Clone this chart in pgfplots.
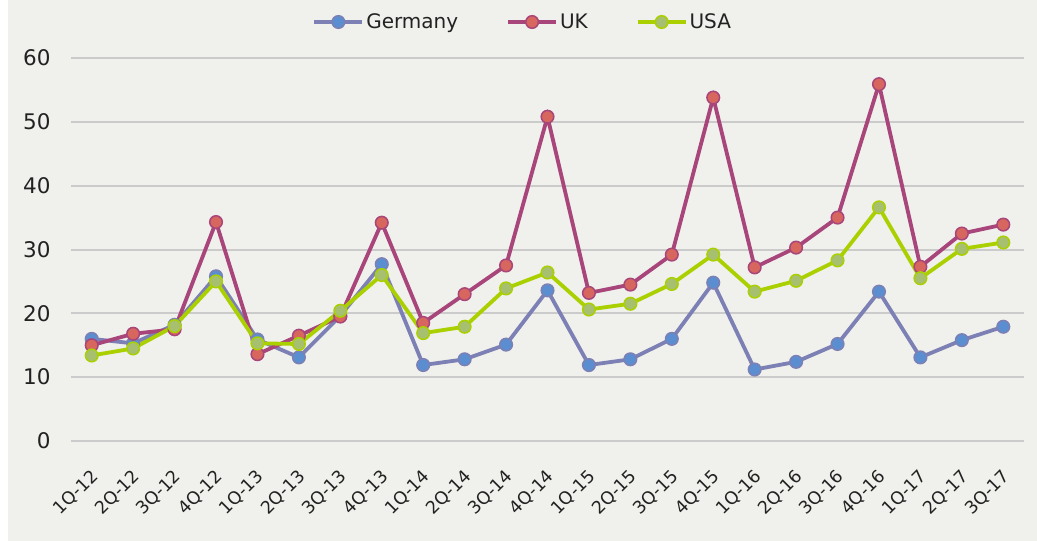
\documentclass[border=0pt]{standalone}
\usepackage{pgfplots}
\pgfplotsset{compat=1.18}
\usepackage{fontspec}
\setmainfont{DejaVu Sans}
\definecolor{bg}{HTML}{F0F0EC}
\definecolor{gridc}{HTML}{CBCBCB}
\definecolor{txt}{HTML}{222222}
\definecolor{gerL}{HTML}{7C80B4}
\definecolor{gerF}{HTML}{5B8ED0}
\definecolor{ukL}{HTML}{A8457A}
\definecolor{ukF}{HTML}{D6665E}
\definecolor{usL}{HTML}{AAD000}
\definecolor{usF}{HTML}{A6C070}
\begin{document}
\begin{tikzpicture}[x=1pt,y=1pt]
\fill[white] (0,0) rectangle (1037,541);
\fill[bg] (8,0) rectangle (1037,541);
\begin{axis}[
  at={(71pt,100pt)}, anchor=south west,
  width=953pt, height=383pt, scale only axis,
  xmin=-0.5, xmax=22.5, ymin=0, ymax=60,
  axis line style={draw=none},
  xtick={0,...,22},
  xticklabels={1Q-12,2Q-12,3Q-12,4Q-12,1Q-13,2Q-13,3Q-13,4Q-13,1Q-14,2Q-14,3Q-14,4Q-14,1Q-15,2Q-15,3Q-15,4Q-15,1Q-16,2Q-16,3Q-16,4Q-16,1Q-17,2Q-17,3Q-17},
  x tick label style={anchor=east, xshift=6pt, yshift=-30pt, rotate=45, text=txt,
    font=\fontsize{17.5}{20}\selectfont},
  ytick={0,10,...,60},
  y tick label style={font=\fontsize{21.5}{24}\selectfont, xshift=-17pt, text=txt},
  /pgf/number format/assume math mode=true,
  major tick length=0pt,
  ymajorgrids, grid style={gridc, line width=2pt},
  legend columns=3,
  legend style={at={(0.474,1.094)}, anchor=center, draw=none, fill=none,
    font=\fontsize{20}{24}\selectfont, text=txt,
    /tikz/every even column/.append style={column sep=46pt}},
  legend image code/.code={
    \draw[#1, mark=none] (0pt,0pt) -- (48pt,0pt);
    \draw[#1, only marks] plot coordinates {(24pt,0pt)};
  },
  every axis plot/.append style={line width=3.8pt, mark=*, mark size=6.3pt},
]
\addplot[gerL, mark options={fill=gerF, draw=gerL, line width=1.5pt}] coordinates {
(0,16.0)(1,15.3)(2,18.2)(3,25.8)(4,15.9)(5,13.1)(6,19.6)(7,27.7)(8,11.9)(9,12.8)(10,15.1)
(11,23.6)(12,11.9)(13,12.8)(14,16.0)(15,24.8)(16,11.2)(17,12.4)(18,15.2)(19,23.4)(20,13.1)(21,15.8)(22,17.9)};
\addlegendentry{Germany}
\addplot[ukL, mark options={fill=ukF, draw=ukL, line width=1.5pt}] coordinates {
(0,15.0)(1,16.8)(2,17.5)(3,34.3)(4,13.6)(5,16.5)(6,19.5)(7,34.2)(8,18.5)(9,23.0)(10,27.5)
(11,50.8)(12,23.2)(13,24.5)(14,29.2)(15,53.8)(16,27.2)(17,30.3)(18,35.0)(19,55.9)(20,27.3)(21,32.5)(22,33.9)};
\addlegendentry{UK}
\addplot[usL, mark options={fill=usF, draw=usL, line width=1.5pt}] coordinates {
(0,13.4)(1,14.5)(2,18.0)(3,25.0)(4,15.3)(5,15.2)(6,20.4)(7,26.0)(8,16.9)(9,17.9)(10,23.9)
(11,26.4)(12,20.6)(13,21.5)(14,24.6)(15,29.2)(16,23.4)(17,25.1)(18,28.3)(19,36.6)(20,25.5)(21,30.1)(22,31.1)};
\addlegendentry{USA}
\end{axis}
\end{tikzpicture}
\end{document}
